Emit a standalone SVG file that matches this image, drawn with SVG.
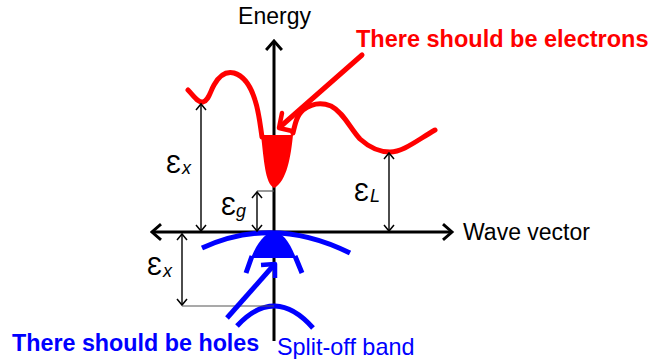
<svg xmlns="http://www.w3.org/2000/svg" width="654" height="359" viewBox="0 0 654 359">
<style>
.ax{stroke:#000;stroke-width:3;fill:none}
.dim{stroke:#000;stroke-width:1.4;fill:none}
.ref{stroke:#555;stroke-width:1.2;fill:none}
.red{stroke:#ff0000;stroke-width:5;fill:none;stroke-linecap:round;stroke-linejoin:round}
.blue{stroke:#0000ff;stroke-width:5;fill:none;stroke-linecap:butt;stroke-linejoin:round}
.t{font-family:"Liberation Sans",Arial,sans-serif;font-size:23px}
.e{font-family:"Liberation Sans","DejaVu Sans",sans-serif;font-size:25px}
.s{font-family:"Liberation Sans",Arial,sans-serif;font-size:18px;font-style:italic}
</style>
<defs>
<marker id="ah" markerUnits="userSpaceOnUse" markerWidth="14" markerHeight="18" viewBox="-10 -8 12 16" refX="0" refY="0" orient="auto-start-reverse">
<path d="M-8,-7 L0,0 L-8,7" fill="none" stroke="#000" stroke-width="2.6"/>
</marker>
<marker id="dh" markerUnits="userSpaceOnUse" markerWidth="10" markerHeight="12" viewBox="-7 -6 8 12" refX="0" refY="0" orient="auto-start-reverse">
<path d="M-6,-5 L0,0 L-6,5" fill="none" stroke="#000" stroke-width="1.5"/>
</marker>
</defs>
<rect width="654" height="359" fill="#fff"/>

<g id="axes">
<line class="ax" x1="274" y1="341" x2="274" y2="41" marker-end="url(#ah)"/>
<line class="ax" x1="152" y1="232" x2="452" y2="232" marker-start="url(#ah)" marker-end="url(#ah)"/>
<text class="t" x="274.5" y="24" text-anchor="middle">Energy</text>
<text class="t" x="463" y="240">Wave vector</text>
</g>

<g id="conduction-band">
<path class="red" d="M188,90 C194,96 198,103 203,102 C209,100 210,92 214,85 C219,76 226,71 234,73 C244,76 251,87 255,100 C259,112 260,124 262,137"/>
<path d="M261,135 L293,135 C291,155 287,182 274,188 C265,183 264,160 261,135 Z" fill="#ff0000"/>
<path class="red" d="M293,133 C295,124 297,115 303,110 C311,104 321,102 331,106 C343,112 350,128 360,139 C370,148 380,152 390,152 C403,152 416,141 435,130"/>
</g>

<g id="valence-bands">
<path class="blue" d="M202,248 Q274,215 350,253"/>
<path d="M274,232 C282,232 289,241 296,258 L251,258 C258,241 266,232 274,232 Z" fill="#0000ff"/>
<path class="blue" d="M252,256 L246,273 M295,256 L302,273"/>
<path class="blue" d="M237,326 Q275,285 313,328"/>
</g>

<g id="connectors">
<line class="dim" x1="201" y1="104" x2="201" y2="231" marker-start="url(#dh)" marker-end="url(#dh)"/>
<line class="ref" x1="257" y1="191" x2="274" y2="191"/>
<line class="dim" x1="257" y1="192" x2="257" y2="231" marker-start="url(#dh)" marker-end="url(#dh)"/>
<line class="dim" x1="389" y1="153" x2="389" y2="231" marker-start="url(#dh)" marker-end="url(#dh)"/>
<line class="dim" x1="182" y1="234" x2="182" y2="305" marker-start="url(#dh)" marker-end="url(#dh)"/>
<line class="ref" x1="182" y1="306" x2="274" y2="306"/>
<path class="red" d="M362,55 L280,127"/>
<path class="red" style="stroke-width:4.5" d="M282,113 L279,128 L292,131"/>
<path class="blue" d="M227,318 L273,266"/>
<path class="blue" style="stroke-width:4.5" d="M261,265 L275,264 L275,278"/>
</g>

<g id="labels">
<text class="e" x="166" y="173">Ɛ</text><text class="s" x="182" y="174">x</text>
<text class="e" x="221" y="215">Ɛ</text><text class="s" x="236" y="217">g</text>
<text class="e" x="354" y="201">Ɛ</text><text class="s" x="370" y="202">L</text>
<text class="e" x="147" y="275">Ɛ</text><text class="s" x="163" y="277">x</text>
<text class="t" x="356" y="47" style="font-weight:bold;font-size:23.5px" fill="#ff0000">There should be electrons</text>
<text class="t" x="12" y="351" style="font-weight:bold;font-size:23.3px" fill="#0000ff">There should be holes</text>
<text class="t" x="277" y="355" style="font-size:23.4px" fill="#0000ff">Split-off band</text>
</g>
</svg>
